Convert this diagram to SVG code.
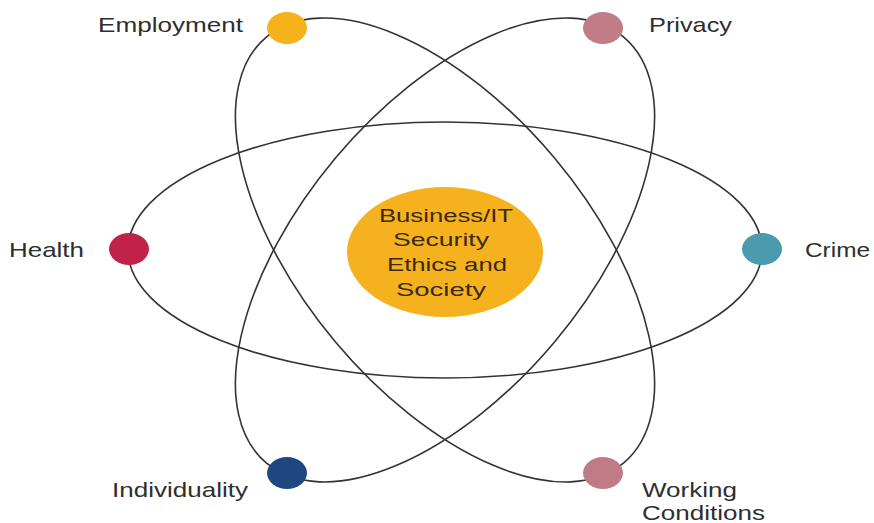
<svg xmlns="http://www.w3.org/2000/svg" width="874" height="523" viewBox="0 0 874 523">
<style>
.orbit{fill:none;stroke:#333;stroke-width:1.6}
.lbl{font-family:"Liberation Sans",Arial,sans-serif;font-size:21px;fill:#2e2e2e}
.ctr{font-family:"Liberation Sans",Arial,sans-serif;font-size:18px;fill:#3a2a12;text-anchor:middle}
</style>
<rect width="874" height="523" fill="#fff"/>
<g id="connectors">
<ellipse class="orbit" cx="445" cy="250" rx="317" ry="128"/>
<ellipse class="orbit" cx="445" cy="250" rx="278" ry="143" transform="rotate(50 445 250)"/>
<ellipse class="orbit" cx="445" cy="250" rx="278" ry="143" transform="rotate(-50 445 250)"/>
</g>
<g id="center">
<ellipse cx="445" cy="252" rx="98" ry="65" fill="#F5B21E"/>
<text class="ctr" x="446" y="222" textLength="134" lengthAdjust="spacingAndGlyphs">Business/IT</text>
<text class="ctr" x="441" y="246" textLength="96" lengthAdjust="spacingAndGlyphs">Security</text>
<text class="ctr" x="447" y="271" textLength="120" lengthAdjust="spacingAndGlyphs">Ethics and</text>
<text class="ctr" x="441" y="296" textLength="90" lengthAdjust="spacingAndGlyphs">Society</text>
</g>
<g id="employment">
<ellipse cx="287" cy="28" rx="20" ry="16" fill="#F5B21B"/>
<text class="lbl" x="98" y="32" textLength="145" lengthAdjust="spacingAndGlyphs">Employment</text>
</g>
<g id="privacy">
<ellipse cx="603" cy="28" rx="20" ry="16" fill="#C07D88"/>
<text class="lbl" x="649" y="32" textLength="83" lengthAdjust="spacingAndGlyphs">Privacy</text>
</g>
<g id="health">
<ellipse cx="129" cy="249" rx="20" ry="16" fill="#C0224A"/>
<text class="lbl" x="9" y="257" textLength="75" lengthAdjust="spacingAndGlyphs">Health</text>
</g>
<g id="crime">
<ellipse cx="762" cy="249" rx="20" ry="16" fill="#4A9BAE"/>
<text class="lbl" x="805" y="257" textLength="65" lengthAdjust="spacingAndGlyphs">Crime</text>
</g>
<g id="individuality">
<ellipse cx="287" cy="473" rx="20" ry="16" fill="#1E467F"/>
<text class="lbl" x="112" y="497" textLength="136" lengthAdjust="spacingAndGlyphs">Individuality</text>
</g>
<g id="working-conditions">
<ellipse cx="603" cy="473" rx="20" ry="16" fill="#C07B86"/>
<text class="lbl" x="642" y="497" textLength="95" lengthAdjust="spacingAndGlyphs">Working</text>
<text class="lbl" x="642" y="520" textLength="123" lengthAdjust="spacingAndGlyphs">Conditions</text>
</g>
</svg>
